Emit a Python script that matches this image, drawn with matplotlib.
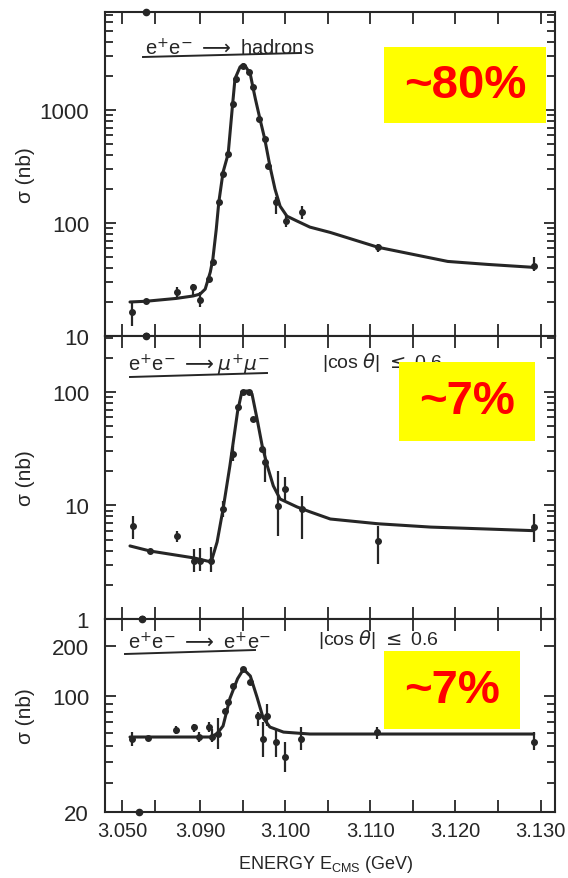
import numpy as np
import matplotlib
matplotlib.use("Agg")
import matplotlib.pyplot as plt
from matplotlib.patches import Rectangle
from matplotlib.lines import Line2D
from matplotlib.ticker import LogLocator, NullFormatter

plt.rcParams['font.family'] = ['Liberation Sans', 'DejaVu Sans']
ink = '#262626'

# e+e- -> hadrons : fitted curve and measured points (GeV, nb)
had_E = [3.0541, 3.0623, 3.0777, 3.0864, 3.0900, 3.0906, 3.0912, 3.0915, 3.0919,
         3.0922, 3.0927, 3.0933, 3.0938, 3.0941, 3.0947, 3.0951, 3.0953, 3.0959,
         3.0962, 3.0965, 3.0971, 3.0976, 3.0982, 3.0988, 3.0994, 3.1002, 3.1014,
         3.1029, 3.1053, 3.1109, 3.1191, 3.1238, 3.1292]
had_sig = [20.0, 20.3, 21.5, 22.6, 23.5, 26, 36.8, 48, 88,
           153, 282, 410, 1080, 1890, 2410, 2520, 2460, 2080,
           1600, 1250, 794, 553, 320, 200, 141, 115, 104,
           92, 82.5, 61, 45.7, 43, 40.5]
had_pE = [3.0551, 3.0623, 3.0782, 3.0864, 3.0900, 3.0911, 3.0915, 3.0922, 3.0927,
          3.0933, 3.0939, 3.0942, 3.0951, 3.0957, 3.0962, 3.0969, 3.0976, 3.0980,
          3.0989, 3.1001, 3.1020, 3.1109, 3.1292]
had_psig = [16.3, 20.3, 24.5, 27.2, 21.0, 31.9, 45, 153, 270,
            410, 1130, 1890, 2460, 2190, 1610, 832, 553, 320,
            153, 104, 125, 61.3, 41.6]
had_plo = [12.2, 20.3, 22.1, 22.6, 18.1, 31.9, 45, 153, 270,
           410, 1130, 1890, 2460, 2190, 1610, 832, 553, 320,
           120, 92, 108, 55.3, 37.6]
had_phi = [20.4, 20.3, 27.1, 28.8, 24.5, 31.9, 45, 153, 270,
           410, 1130, 1890, 2460, 2190, 1610, 832, 553, 320,
           169, 120, 141, 65.4, 50.0]

# e+e- -> mu+mu-
mu_E = [3.0541, 3.0644, 3.0869, 3.0913, 3.0920, 3.0927, 3.0935, 3.0944, 3.0949,
        3.0955, 3.0961, 3.0967, 3.0973, 3.0979, 3.0986, 3.0994, 3.1014, 3.1029,
        3.1053, 3.1109, 3.1171, 3.1238, 3.1292]
mu_sig = [4.4, 3.97, 3.45, 3.18, 4.77, 9.3, 22.3, 66.8, 100,
          102, 96, 57.6, 33.4, 22.3, 14.9, 11.4, 9.7, 8.8,
          7.6, 6.9, 6.45, 6.2, 6.0]
mu_pE = [3.0556, 3.0644, 3.0782, 3.0869, 3.0900, 3.0913, 3.0927, 3.0939, 3.0944,
         3.0951, 3.0958, 3.0962, 3.0973, 3.0976, 3.0991, 3.1000, 3.1020, 3.1109,
         3.1292]
mu_psig = [6.6, 3.97, 5.4, 3.24, 3.24, 3.24, 9.3, 28.4, 73.6,
           100, 100, 57.6, 31.4, 24.2, 9.9, 14.0, 9.3, 4.87,
           6.45]
mu_plo = [5.06, 3.97, 4.77, 2.6, 2.65, 2.6, 7.9, 24.6, 73.6,
          100, 100, 57.6, 31.4, 16.0, 5.4, 10.9, 5.06, 3.05,
          4.76]
mu_phi = [8.1, 3.97, 6.0, 4.14, 4.2, 4.3, 10.9, 33.3, 73.6,
          100, 100, 57.6, 31.4, 31.4, 20.1, 17.9, 12.1, 6.6,
          8.4]

# e+e- -> e+e-
ee_E = [3.0541, 3.0912, 3.0920, 3.0927, 3.0935, 3.0944, 3.0951, 3.0959, 3.0967,
        3.0974, 3.0982, 3.0998, 3.1029, 3.1292]
ee_sig = [56.6, 56.6, 59.3, 66, 96.5, 127, 145, 132, 98,
          74, 65, 60.6, 59, 59]
ee_pE = [3.0551, 3.0633, 3.0777, 3.0869, 3.0895, 3.0911, 3.0914, 3.0921, 3.0929,
         3.0933, 3.0939, 3.0951, 3.0959, 3.0968, 3.0974, 3.0979, 3.0989, 3.1000,
         3.1019, 3.1108, 3.1292]
ee_psig = [55, 55.8, 62, 65, 56.6, 65, 56.6, 59, 81,
           91.5, 115, 145, 121, 76, 55, 76, 52.6, 43,
           55, 60.6, 52.6]
ee_plo = [50, 55.8, 59.3, 60.6, 52.6, 60.6, 52.6, 48, 81,
          91.5, 115, 145, 121, 66, 43, 66, 43, 35,
          47, 55, 47]
ee_phi = [60.5, 55.8, 66, 67.5, 60.6, 69.6, 63, 73.6, 81,
          91.5, 115, 145, 121, 80, 69.6, 89, 63, 52.6,
          65, 65.2, 60.5]

x_major = [3.050, 3.090, 3.100, 3.110, 3.120, 3.130]
x_major_labels = ['3.050', '3.090', '3.100', '3.110', '3.120', '3.130']
x_minor = [3.067, 3.095, 3.105, 3.115, 3.125]


# energy axis is squeezed below 3.090 GeV
def fwd(e):
    return np.interp(e, [3.00, 3.09, 3.20], [24.5, 200.0, 1135.0])


def inv(u):
    return np.interp(u, [24.5, 200.0, 1135.0], [3.00, 3.09, 3.20])


W, H = 568, 879
fig = plt.figure(figsize=(W / 100, H / 100), dpi=100)


def frac(x, y):
    return x / W, 1 - y / H


panels = [
    # top/bottom edge in pixels, y range, y ticks, curve, points, break dots
    (13, 337, (10, 7370), [10, 100, 1000], had_E, had_sig,
     had_pE, had_psig, had_plo, had_phi, [(3.0623, 1), (3.0623, 0)]),
    (337, 620, (1, 311), [1, 10, 100], mu_E, mu_sig,
     mu_pE, mu_psig, mu_plo, mu_phi, [(3.0623, 1), (3.0603, 0)]),
    (620, 813, (20, 291), [20, 100, 200], ee_E, ee_sig,
     ee_pE, ee_psig, ee_plo, ee_phi, [(3.0603, 1), (3.0587, 0)]),
]

axes = []
for i, (ytop, ybot, ylim, yt, cE, cS, pE, pS, pL, pH, dots) in enumerate(panels):
    ax = fig.add_axes([105 / W, 1 - ybot / H, 450 / W, (ybot - ytop) / H])
    ax.set_xscale('function', functions=(fwd, inv))
    ax.set_yscale('log')
    ax.set_xlim(3.0413, 3.1317)
    ax.set_ylim(*ylim)

    ax.plot(cE, cS, color=ink, lw=2.2, solid_capstyle='round',
            solid_joinstyle='round', zorder=3)
    pS = np.array(pS)
    yerr = [pS - np.array(pL), np.array(pH) - pS]
    ax.errorbar(pE, pS, yerr=yerr, fmt='o', ms=4, color=ink,
                elinewidth=1.6, capsize=0, zorder=4)

    for e, yy in dots:
        ax.plot([e], [yy], 'o', ms=4.5, color=ink, clip_on=False,
                transform=ax.get_xaxis_transform(), zorder=5)

    ax.set_xticks(x_major)
    ax.set_xticks(x_minor, minor=True)
    ax.set_yticks(yt)
    ax.set_yticklabels([str(v) for v in yt])
    ax.yaxis.set_minor_locator(LogLocator(base=10, subs=np.arange(2, 10), numticks=30))
    ax.yaxis.set_minor_formatter(NullFormatter())
    ax.tick_params(axis='both', which='both', direction='in', top=True, right=True,
                   color=ink, width=1.3)
    ax.tick_params(axis='x', which='both', length=8.5, pad=6.5, labelsize=14.5,
                   labelcolor=ink)
    ax.tick_params(axis='y', which='major', length=8, pad=11.5, labelsize=16,
                   labelcolor=ink)
    ax.tick_params(axis='y', which='minor', length=5.5)
    if i < 2:
        ax.tick_params(axis='x', labelbottom=False)
    else:
        ax.set_xticklabels(x_major_labels)
    for s in ax.spines.values():
        s.set_linewidth(1.5)
        s.set_color(ink)
    ax.set_ylabel('σ (nb)', fontsize=15, color=ink)
    ax.yaxis.set_label_coords(-0.155, 0.5)
    axes.append(ax)

axes[2].set_xlabel(r'ENERGY E$_{\mathregular{CMS}}$ (GeV)', fontsize=13, color=ink)
axes[2].xaxis.set_label_coords(0.49, -0.215)
axes[2].xaxis.label.set_va('top')

# reaction labels with their underlines
labels = [
    (r'e$^{+}$e$^{-}$ $\longrightarrow$ hadrons', 145, 55, (143, 58, 300, 54)),
    (r'e$^{+}$e$^{-}$ $\longrightarrow \mu^{+}\mu^{-}$', 128, 371, (130, 378, 267, 374)),
    (r'e$^{+}$e$^{-}$ $\longrightarrow$ e$^{+}$e$^{-}$', 128, 649, (125, 655, 255, 651)),
]
for txt, x, y, (x0, y0, x1, y1) in labels:
    fig.text(*frac(x, y), txt, fontsize=14.5, color=ink, va='baseline', ha='left')
    a, b = frac(x0, y0)
    c, d = frac(x1, y1)
    fig.add_artist(Line2D([a, c], [b, d], color=ink, lw=1.4))

fig.text(*frac(322, 368), r'|cos $\theta$| $\leq$ 0.6', fontsize=14, color=ink, va='baseline')
fig.text(*frac(318, 645), r'|cos $\theta$| $\leq$ 0.6', fontsize=14, color=ink, va='baseline')

# highlighted fractions
boxes = [(384, 48, 546, 124, '~80%'), (399, 363, 535, 442, '~7%'), (384, 652, 520, 730, '~7%')]
for x0, y0, x1, y1, txt in boxes:
    fig.add_artist(Rectangle(frac(x0, y1), (x1 - x0) / W, (y1 - y0) / H,
                             transform=fig.transFigure, facecolor='#ffff00',
                             edgecolor='none', zorder=10))
    fig.text(*frac((x0 + x1) / 2, (y0 + y1) / 2), txt, fontsize=34, fontweight='bold',
             color='#ff0000', ha='center', va='center', zorder=11)

fig.savefig('out.png', dpi=100)
